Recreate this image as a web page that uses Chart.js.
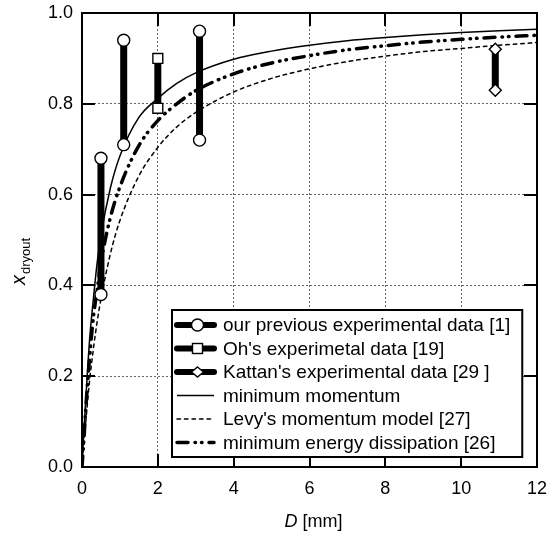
<!DOCTYPE html>
<html>
<head>
<meta charset="utf-8">
<script src="https://cdn.jsdelivr.net/npm/chart.js@4/dist/chart.umd.min.js"></script>
<style>
  html, body { margin: 0; padding: 0; background: #fff; }
  #wrap { width: 557px; height: 536px; position: relative; }
</style>
</head>
<body>
<div id="wrap"><canvas id="dryout"></canvas></div>
<script>
// measured dryout ranges: D [mm], lowest and highest x_dryout
const ourD = [0.5, 1.1, 3.1];
const ourLow = [0.38, 0.71, 0.72];
const ourHigh = [0.68, 0.94, 0.96];

const ohD = [2.0];
const ohLow = [0.79];
const ohHigh = [0.90];

const kattanD = [10.9];
const kattanLow = [0.83];
const kattanHigh = [0.92];

// model curves
const modelD       = [0, 0.05, 0.1, 0.2, 0.3, 0.4, 0.5, 0.75, 1, 1.5, 2, 2.5, 3, 4, 5, 6, 7, 8, 9, 10, 11, 12];
const minMomentum  = [0, 0.08, 0.15, 0.28, 0.37, 0.45, 0.51, 0.615, 0.685, 0.77, 0.812, 0.845, 0.868, 0.898, 0.916, 0.929, 0.939, 0.946, 0.952, 0.957, 0.961, 0.964];
const levyModel    = [0, 0.05, 0.10, 0.19, 0.26, 0.32, 0.37, 0.47, 0.543, 0.641, 0.704, 0.749, 0.781, 0.826, 0.856, 0.877, 0.893, 0.905, 0.915, 0.922, 0.929, 0.935];
const minEnergy    = [0, 0.06, 0.13, 0.24, 0.33, 0.39, 0.45, 0.55, 0.617, 0.708, 0.763, 0.80, 0.829, 0.866, 0.89, 0.906, 0.919, 0.928, 0.936, 0.942, 0.947, 0.951];

const xTickStep = 2;
const yTickStep = 0.2;

const FONT = "'Liberation Sans', Arial, Helvetica, sans-serif";

function rangePoints(xs, lo, hi) {
    const pts = [];
    xs.forEach((d, i) => {
        if (i > 0) pts.push({ x: d, y: null });
        pts.push({ x: d, y: lo[i] }, { x: d, y: hi[i] });
    });
    return pts;
}

function curvePoints(xs, ys) {
    return xs.map((d, i) => ({ x: d, y: ys[i] }));
}

function rangeSet(label, pts, style, radius) {
    return {
        label: label,
        data: pts,
        borderColor: '#000',
        borderWidth: 7,
        borderCapStyle: 'butt',
        spanGaps: false,
        pointStyle: style,
        pointRadius: radius,
        pointBackgroundColor: '#fff',
        pointBorderColor: '#000',
        pointBorderWidth: 1.4,
        legendMarker: style
    };
}

function curveSet(label, pts, width, dash) {
    return {
        label: label,
        data: pts,
        borderColor: '#000',
        borderWidth: width,
        borderDash: dash,
        borderCapStyle: dash.length ? 'round' : 'butt',
        pointRadius: 0,
        cubicInterpolationMode: 'monotone',
        legendMarker: null
    };
}

// inward ticks, frame, legend box and the two axis titles
const decorations = {
    id: 'decorations',
    afterDatasetsDraw(chart) {
        const ctx = chart.ctx;
        const a = chart.chartArea;
        const xs = chart.scales.x, ys = chart.scales.y;
        const tl = 13;
        ctx.save();
        ctx.strokeStyle = '#000';
        ctx.lineWidth = 2;
        ctx.setLineDash([]);
        ctx.beginPath();
        xs.ticks.forEach(t => {
            const px = Math.round(xs.getPixelForValue(t.value));
            ctx.moveTo(px, a.bottom); ctx.lineTo(px, a.bottom - tl);
            ctx.moveTo(px, a.top); ctx.lineTo(px, a.top + tl);
        });
        ys.ticks.forEach(t => {
            const py = Math.round(ys.getPixelForValue(t.value));
            ctx.moveTo(a.left, py); ctx.lineTo(a.left + tl, py);
            ctx.moveTo(a.right, py); ctx.lineTo(a.right - tl, py);
        });
        ctx.stroke();
        ctx.strokeRect(a.left, a.top, a.right - a.left, a.bottom - a.top);

        // legend
        const lg = { left: 172, top: 310, rowH: 23.5, symL: 177, symR: 214, textX: 223 };
        ctx.font = '19px ' + FONT;
        const sets = chart.data.datasets;
        let maxW = 0;
        sets.forEach(ds => { maxW = Math.max(maxW, ctx.measureText(ds.label).width); });
        const boxW = lg.textX + maxW + 12 - lg.left;
        const boxH = lg.rowH * sets.length + 6;
        ctx.fillStyle = '#fff';
        ctx.fillRect(lg.left, lg.top, boxW, boxH);
        ctx.lineWidth = 2;
        ctx.strokeRect(lg.left, lg.top, boxW, boxH);

        sets.forEach((ds, i) => {
            const cy = lg.top + 15 + i * lg.rowH;
            ctx.save();
            ctx.strokeStyle = '#000';
            if (ds.legendMarker) {
                ctx.lineWidth = 6;
                ctx.lineCap = 'round';
                ctx.setLineDash([]);
            } else {
                ctx.lineWidth = ds.borderWidth;
                ctx.lineCap = ds.borderCapStyle;
                ctx.setLineDash(ds.borderDash || []);
            }
            ctx.beginPath();
            ctx.moveTo(lg.symL, cy);
            ctx.lineTo(lg.symR, cy);
            ctx.stroke();
            ctx.setLineDash([]);
            const mx = (lg.symL + lg.symR) / 2 + 2;
            ctx.fillStyle = '#fff';
            ctx.lineWidth = 1.4;
            if (ds.legendMarker === 'circle') {
                ctx.beginPath(); ctx.arc(mx, cy, 6, 0, Math.PI * 2); ctx.fill(); ctx.stroke();
            } else if (ds.legendMarker === 'rect') {
                ctx.fillRect(mx - 5, cy - 5, 10, 10); ctx.strokeRect(mx - 5, cy - 5, 10, 10);
            } else if (ds.legendMarker === 'rectRot') {
                ctx.beginPath();
                ctx.moveTo(mx, cy - 5); ctx.lineTo(mx + 6, cy); ctx.lineTo(mx, cy + 5); ctx.lineTo(mx - 6, cy);
                ctx.closePath(); ctx.fill(); ctx.stroke();
            }
            ctx.restore();
            ctx.fillStyle = '#000';
            ctx.textBaseline = 'middle';
            ctx.textAlign = 'left';
            ctx.fillText(ds.label, lg.textX, cy + 1);
        });

        // x axis title: D [mm]
        ctx.fillStyle = '#000';
        ctx.textBaseline = 'middle';
        const cx = (a.left + a.right) / 2 + 4;
        ctx.font = 'italic 18px ' + FONT;
        const wD = ctx.measureText('D').width;
        ctx.font = '18px ' + FONT;
        const wRest = ctx.measureText(' [mm]').width;
        const x0 = cx - (wD + wRest) / 2;
        ctx.textAlign = 'left';
        ctx.font = 'italic 18px ' + FONT;
        ctx.fillText('D', x0, 522);
        ctx.font = '18px ' + FONT;
        ctx.fillText(' [mm]', x0 + wD, 522);

        // y axis title: x_dryout
        ctx.translate(20, 262);
        ctx.rotate(-Math.PI / 2);
        ctx.font = 'italic 20px ' + FONT;
        const wx = ctx.measureText('x').width;
        ctx.font = '13px ' + FONT;
        const ws = ctx.measureText('dryout').width;
        const s0 = -(wx + ws) / 2;
        ctx.textBaseline = 'alphabetic';
        ctx.font = 'italic 20px ' + FONT;
        ctx.fillText('x', s0, 5);
        ctx.font = '13px ' + FONT;
        ctx.fillText('dryout', s0 + wx + 1, 10);
        ctx.restore();
    }
};

const canvas = document.getElementById('dryout');
canvas.width = 557;
canvas.height = 536;

new Chart(canvas.getContext('2d'), {
    type: 'line',
    data: {
        datasets: [
            rangeSet('our previous experimental data [1]', rangePoints(ourD, ourLow, ourHigh), 'circle', 6),
            rangeSet("Oh's experimetal data [19]", rangePoints(ohD, ohLow, ohHigh), 'rect', 7),
            rangeSet("Kattan's experimental data [29 ]", rangePoints(kattanD, kattanLow, kattanHigh), 'rectRot', 6),
            curveSet('minimum momentum', curvePoints(modelD, minMomentum), 1.5, []),
            curveSet("Levy's momentum model [27]", curvePoints(modelD, levyModel), 1.5, [3.5, 4]),
            curveSet('minimum energy dissipation [26]', curvePoints(modelD, minEnergy), 3.5, [11, 7, 0.5, 6, 0.5, 7])
        ]
    },
    options: {
        responsive: false,
        animation: false,
        devicePixelRatio: 1,
        layout: { padding: { top: 13, right: 20, left: 0, bottom: 0 } },
        plugins: {
            legend: { display: false },
            tooltip: { enabled: false }
        },
        scales: {
            x: {
                type: 'linear',
                min: 0,
                max: 12,
                afterFit: s => { s.height = 69; s.paddingRight = 0; s.paddingLeft = 0; },
                ticks: {
                    stepSize: xTickStep,
                    color: '#000',
                    font: { family: FONT, size: 18 },
                    padding: 11,
                    maxRotation: 0
                },
                grid: { color: '#666', lineWidth: 1, drawTicks: false },
                border: { display: false, dash: [2, 2] }
            },
            y: {
                type: 'linear',
                min: 0,
                max: 1,
                afterFit: s => { s.width = 82; s.paddingTop = 0; s.paddingBottom = 0; },
                ticks: {
                    stepSize: yTickStep,
                    color: '#000',
                    font: { family: FONT, size: 18 },
                    padding: 9,
                    callback: v => v.toFixed(1)
                },
                grid: { color: '#666', lineWidth: 1, drawTicks: false },
                border: { display: false, dash: [2, 2] }
            }
        }
    },
    plugins: [decorations]
});
</script>
</body>
</html>
